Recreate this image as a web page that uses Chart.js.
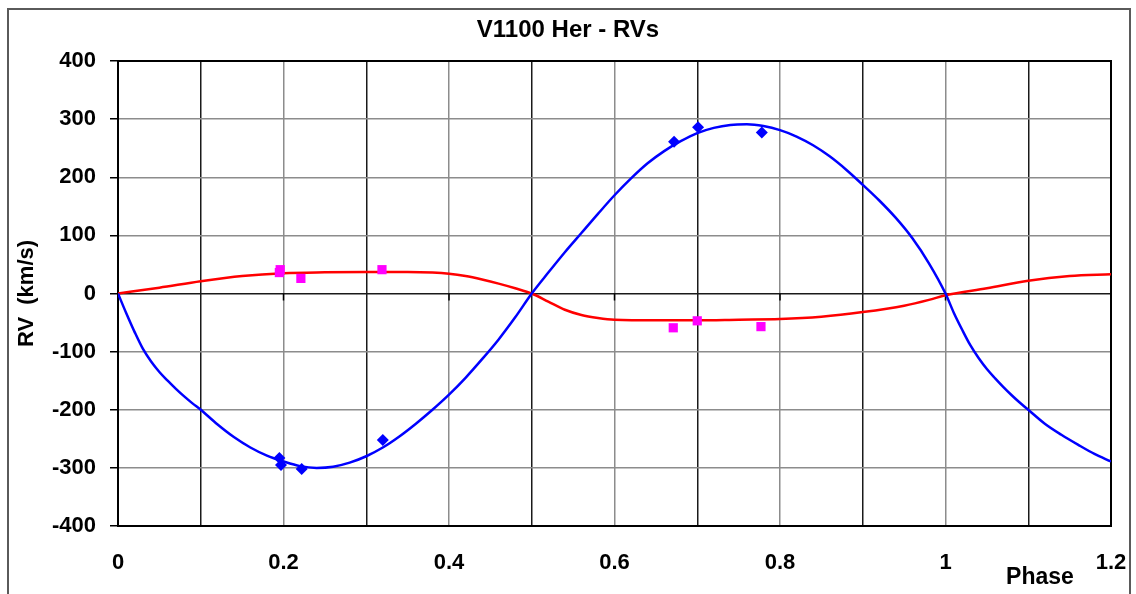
<!DOCTYPE html>
<html>
<head>
<meta charset="utf-8">
<script src="https://cdn.jsdelivr.net/npm/chart.js@4/dist/chart.umd.min.js"></script>
<style>
  html, body { margin: 0; padding: 0; background: #fff; }
  #wrap { width: 1136px; height: 594px; position: relative; }
</style>
</head>
<body>
<div id="wrap"><canvas id="c" width="1136" height="594"></canvas></div>
<script>
// ---- data ----
const titleText = 'V1100 Her - RVs';
const yTitle = 'RV  (km/s)';
const xTitle = 'Phase';
const xTickLabels = ['0', '0.2', '0.4', '0.6', '0.8', '1', '1.2'];

// primary (blue) fitted curve
const blueCurvePhase = [0, 0.01, 0.02, 0.03, 0.04, 0.05, 0.06, 0.07, 0.08, 0.09, 0.1, 0.12, 0.14, 0.16, 0.18, 0.2, 0.22, 0.24, 0.26, 0.28, 0.3,
  0.32, 0.34, 0.36, 0.38, 0.4, 0.42, 0.44, 0.46, 0.48, 0.5, 0.52, 0.54, 0.56, 0.58, 0.6, 0.62, 0.64, 0.66, 0.68, 0.7,
  0.72, 0.74, 0.76, 0.78, 0.8, 0.82, 0.84, 0.86, 0.88, 0.9, 0.92, 0.94, 0.96, 0.98, 1.0,
  1.01, 1.02, 1.03, 1.04, 1.05, 1.06, 1.07, 1.08, 1.09, 1.1, 1.12, 1.14, 1.16, 1.18, 1.2];
const blueCurveRV = [0, -34, -66, -95, -117, -135, -150, -164, -177, -189, -200, -225, -247, -265, -279, -289, -297, -300, -298, -291, -280,
  -265, -246, -224, -200, -174, -145, -113, -79, -41, 0, 36, 71, 104, 137, 169, 198, 224, 245, 262, 276,
  285, 290, 291, 288, 281, 270, 255, 236, 213, 187, 160, 130, 95, 52, 0,
  -33, -62, -89, -111, -130, -146, -161, -175, -188, -200, -224, -243, -260, -276, -289];

// secondary (red) fitted curve
const redCurvePhase = [0, 0.05, 0.1, 0.15, 0.2, 0.25, 0.3, 0.35, 0.38, 0.4, 0.42, 0.44, 0.46, 0.48, 0.5, 0.52, 0.54, 0.56, 0.58, 0.6, 0.65, 0.7, 0.75, 0.8, 0.85, 0.9, 0.95, 0.98, 1.0, 1.05, 1.1, 1.15, 1.2];
const redCurveRV = [0, 10, 21, 30, 35, 36.5, 37, 37, 36, 34, 30, 24, 17, 9, 0, -14, -28, -37, -42, -45, -46, -46, -45, -44, -40, -32, -21, -11, -3, 9, 22, 30, 33];

// observed primary RVs (blue diamonds)
const bluePtsPhase = [0.195, 0.197, 0.222, 0.320, 0.672, 0.701, 0.778];
const bluePtsRV = [-283, -295, -302, -252, 261, 286, 277];

// observed secondary RVs (magenta squares)
const magPtsPhase = [0.195, 0.196, 0.221, 0.319, 0.671, 0.700, 0.777];
const magPtsRV = [36, 41, 26, 41, -59, -47, -57];

const toXY = (xs, ys) => xs.map((x, i) => ({ x: x, y: ys[i] }));

const FONT = { family: '"Liberation Sans", Arial, sans-serif', size: 22, weight: 'bold' };
const TITLE_FONT = { family: '"Liberation Sans", Arial, sans-serif', size: 24, weight: 'bold' };

const decor = {
  id: 'decor',
  beforeDraw(chart) {
    const ctx = chart.ctx;
    ctx.save();
    ctx.fillStyle = '#fff';
    ctx.fillRect(0, 0, chart.width, chart.height);
    ctx.strokeStyle = '#5a5a5a';
    ctx.lineWidth = 2;
    ctx.strokeRect(8, 9, 1122, 620);
    ctx.restore();
  },
  beforeDatasetsDraw(chart) {
    const ctx = chart.ctx;
    const a = chart.chartArea;
    const xs = chart.scales.x, ys = chart.scales.y;
    ctx.save();
    ctx.strokeStyle = '#000';
    ctx.lineWidth = 2;
    ctx.strokeRect(a.left, a.top, a.right - a.left, a.bottom - a.top);
    // tick marks on the zero line at each labelled phase
    const y0 = ys.getPixelForValue(0);
    ctx.lineWidth = 1.5;
    ctx.beginPath();
    xTickLabels.forEach(l => {
      const px = xs.getPixelForValue(parseFloat(l));
      ctx.moveTo(px, y0);
      ctx.lineTo(px, y0 + 7);
    });
    ctx.stroke();
    ctx.restore();
  },
  afterDraw(chart) {
    const ctx = chart.ctx;
    ctx.save();
    ctx.fillStyle = '#000';
    ctx.font = 'bold 23px "Liberation Sans", Arial, sans-serif';
    ctx.textAlign = 'center';
    ctx.textBaseline = 'middle';
    ctx.fillText(xTitle, 1040, 578);
    ctx.restore();
  }
};

new Chart(document.getElementById('c'), {
  type: 'scatter',
  data: {
    datasets: [
      { label: 'RV1 fit', data: toXY(blueCurvePhase, blueCurveRV), showLine: true, borderColor: '#0000ff', borderWidth: 2.5, pointRadius: 0, cubicInterpolationMode: 'monotone', order: 3 },
      { label: 'RV2 fit', data: toXY(redCurvePhase, redCurveRV), showLine: true, borderColor: '#ff0000', borderWidth: 2.5, pointRadius: 0, cubicInterpolationMode: 'monotone', order: 4 },
      { label: 'RV1', data: toXY(bluePtsPhase, bluePtsRV), pointStyle: 'rectRot', pointRadius: 6, backgroundColor: '#0000ff', borderColor: '#0000ff', borderWidth: 0, order: 1 },
      { label: 'RV2', data: toXY(magPtsPhase, magPtsRV), pointStyle: 'rect', pointRadius: 6.5, backgroundColor: '#ff00ff', borderColor: '#ff00ff', borderWidth: 0, order: 2 }
    ]
  },
  options: {
    responsive: false,
    animation: false,
    layout: { padding: { left: 0, right: 0, top: 0, bottom: 0 } },
    plugins: {
      legend: { display: false },
      tooltip: { enabled: false },
      title: { display: true, text: titleText, color: '#000', font: TITLE_FONT, padding: { top: 15.6, bottom: 16.6 } }
    },
    scales: {
      x: {
        type: 'linear', min: 0, max: 1.2,
        afterFit: s => { s.height = 68; s.paddingLeft = 0; s.paddingRight = 25; },
        ticks: {
          stepSize: 0.1, autoSkip: false, maxRotation: 0, color: '#000', font: FONT, padding: 24,
          callback: (v, i) => (i % 2 === 0 ? xTickLabels[i / 2] : '')
        },
        grid: {
          drawTicks: false,
          color: c => (c.index % 2 === 1 ? '#1a1a1a' : '#8c8c8c'),
          lineWidth: 1.5
        },
        border: { display: true, color: '#000', width: 2 }
      },
      y: {
        type: 'linear', min: -400, max: 400,
        afterFit: s => { s.width = 118; },
        ticks: { stepSize: 100, color: '#000', font: FONT, padding: 14 },
        grid: {
          color: c => (c.tick && c.tick.value === 0 ? '#1a1a1a' : '#8c8c8c'),
          lineWidth: 1.5,
          tickColor: '#000',
          tickLength: 8
        },
        border: { display: true, color: '#000', width: 2 },
        title: { display: true, text: yTitle, color: '#000', font: FONT, padding: { top: 14, bottom: 0 } }
      }
    }
  },
  plugins: [decor]
});
</script>
</body>
</html>
